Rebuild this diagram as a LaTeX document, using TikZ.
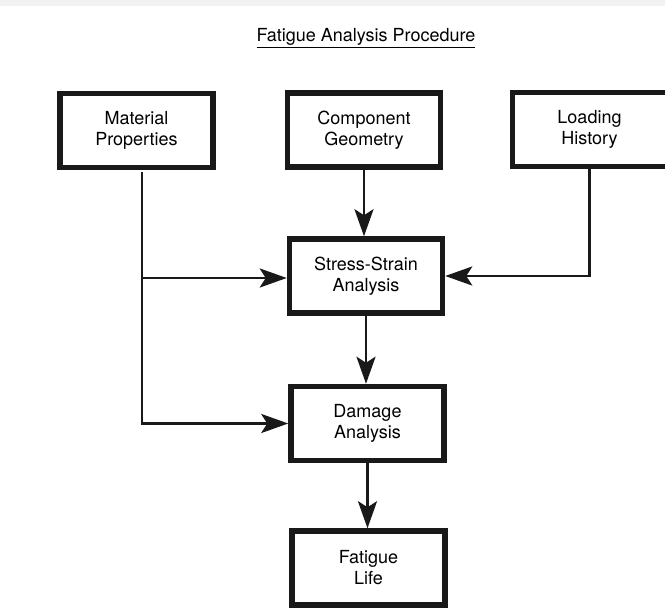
\documentclass[tikz,border=0pt]{standalone}
\usepackage{fontspec}
\setmainfont{TeX Gyre Heros}
\usetikzlibrary{arrows.meta}
\begin{document}
\begin{tikzpicture}[x=1pt,y=-1pt,
  box/.style={draw=black!90, line width=5.5pt, minimum width=153pt, minimum height=74pt,
    inner sep=0pt, align=center, font=\fontsize{18}{21}\selectfont},
  boxtext/.style={inner sep=0pt, align=center, font=\fontsize{18}{21}\selectfont},
  conn/.style={draw=black!90, line width=2.8pt, -{Stealth[length=27pt,width=19pt,inset=6pt]}}]
\useasboundingbox (0,0) rectangle (665,608);
\fill[white] (0,0) rectangle (665,608);
\fill[black!5] (0,0) rectangle (665,6);
\clip (0,0) rectangle (665,608);
\node[font=\fontsize{18}{21}\selectfont] (title) at (366,38) {\underline{Fatigue Analysis Procedure}};
\node[box] (mat) at (136.5,130.5) {Material\\Properties};
\node[box] (comp) at (364,130) {Component\\Geometry};
\node[box, minimum width=170pt] (load) at (597.5,129.5) {};
\node[boxtext] (loadtxt) at (589.5,129.5) {Loading\\History};
\node[box] (ss) at (366,276) {Stress-Strain\\Analysis};
\node[box] (dam) at (367.5,423.5) {Damage\\Analysis};
\node[box] (fat) at (368.5,568) {Fatigue\\Life};
\coordinate (j1) at (142,278);
\coordinate (j0) at (142,172);
\draw[conn] (j0) |- (dam.west);
\draw[conn] (j1) -- (j1 -| ss.west);
\draw[conn] (loadtxt |- load.south) |- (ss.east);
\draw[conn] (comp.south) -- (comp.south |- ss.north);
\draw[conn] (ss.south) -- (ss.south |- dam.north);
\draw[conn] (dam.south) -- (dam.south |- fat.north);
\end{tikzpicture}
\end{document}
